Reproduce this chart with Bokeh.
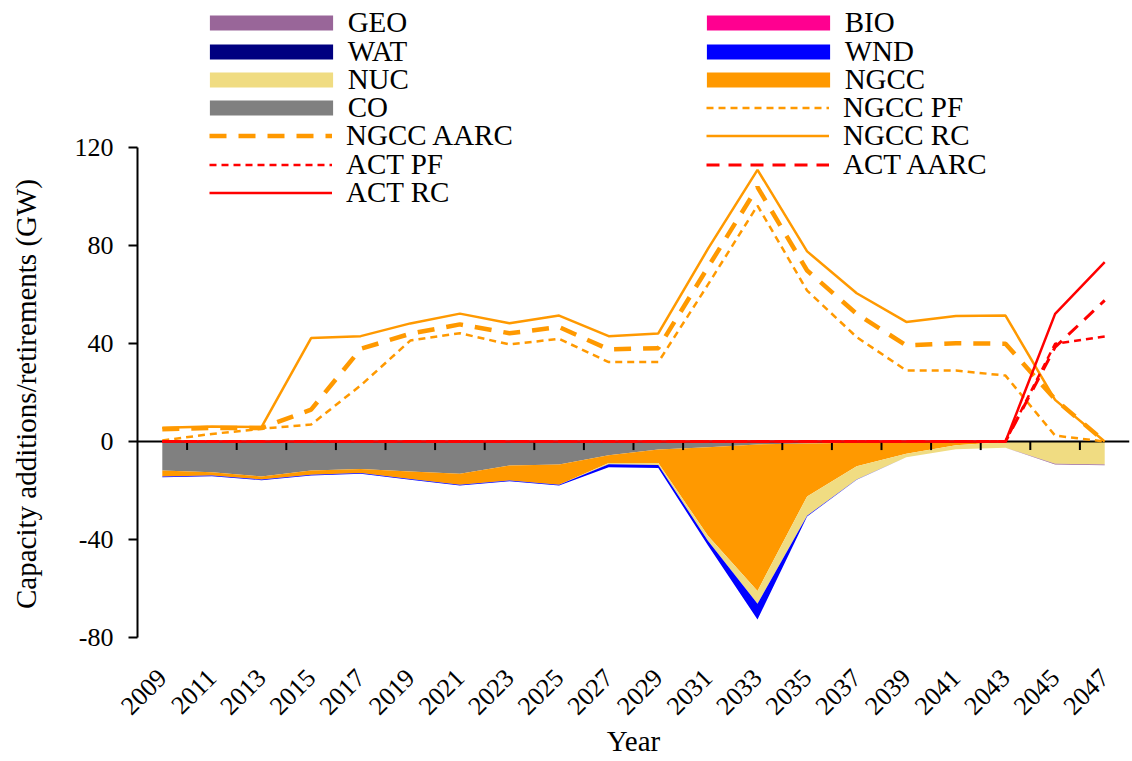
from math import pi
from bokeh.plotting import figure
from bokeh.models import ColumnDataSource, Legend, LegendItem, FixedTicker, Range1d
from bokeh.embed import file_html
from bokeh.resources import INLINE

# ---------------- data ----------------
years = [2009, 2011, 2013, 2015, 2017, 2019, 2021, 2023, 2025, 2027,
         2029, 2031, 2033, 2035, 2037, 2039, 2041, 2043, 2045, 2047]

# retirements (negative, stacked downward from zero)
CO = [-11.8, -12.5, -14.3, -11.8, -11.2, -12.2, -13.2, -9.8, -9.4, -5.6,
      -3.3, -2.3, -1.2, -0.8, -0.5, -0.3, -0.1, 0.0, 0.0, 0.0]
NGCC = [-2.5, -1.4, -1.2, -1.8, -1.7, -3.1, -4.5, -6.1, -8.3, -3.2,
        -5.5, -36.2, -59.8, -21.6, -9.6, -4.7, -1.4, -0.2, 0.0, 0.0]
NUC = [0.0, 0.0, 0.0, 0.0, 0.0, 0.0, 0.0, 0.0, 0.0, -0.5,
       -0.8, -2.0, -5.2, -7.9, -5.4, -1.4, -1.7, -2.3, -9.1, -9.4]
WND = [-0.3, -0.3, -0.3, -0.3, -0.3, -0.3, -0.3, -0.3, -0.3, -1.2,
       -1.2, -1.8, -6.5, -0.3, -0.1, 0.0, 0.0, 0.0, 0.0, 0.0]
WAT = [0.0, 0.0, 0.0, 0.0, 0.0, 0.0, 0.0, 0.0, 0.0, 0.0,
       0.0, 0.0, 0.0, 0.0, 0.0, 0.0, 0.0, 0.0, 0.0, 0.0]
BIO = [0.0, 0.0, 0.0, 0.0, 0.0, 0.0, 0.0, 0.0, 0.0, 0.0,
       0.0, 0.0, 0.0, 0.0, 0.0, 0.0, 0.0, 0.0, 0.0, 0.0]
GEO = [0.0, 0.0, 0.0, 0.0, 0.0, 0.0, 0.0, 0.0, 0.0, 0.0,
       0.0, 0.0, 0.0, 0.0, 0.0, 0.0, 0.0, 0.0, -0.3, -0.3]

# additions (lines)
NGCC_PF = [0.4, 3.1, 5.2, 6.9, 22.9, 41.2, 44.2, 39.6, 41.9, 32.4,
           32.4, 64.0, 96.3, 61.6, 42.6, 29.0, 29.0, 26.9, 2.4, 0.0]
NGCC_AARC = [5.0, 5.5, 5.5, 13.0, 37.8, 44.0, 47.8, 44.2, 46.7, 37.6,
             38.1, 71.1, 103.8, 69.8, 52.1, 39.2, 40.1, 39.9, 17.2, 0.0]
NGCC_RC = [5.6, 6.1, 5.9, 42.2, 43.0, 48.2, 52.2, 48.3, 51.4, 43.0,
           44.1, 78.6, 110.9, 77.6, 60.5, 48.8, 51.2, 51.4, 17.0, 0.0]
ACT_PF = [0.0, 0.0, 0.0, 0.0, 0.0, 0.0, 0.0, 0.0, 0.0, 0.0,
          0.0, 0.0, 0.0, 0.0, 0.0, 0.0, 0.0, 0.0, 39.9, 42.9]
ACT_AARC = [0.0, 0.0, 0.0, 0.0, 0.0, 0.0, 0.0, 0.0, 0.0, 0.0,
            0.0, 0.0, 0.0, 0.0, 0.0, 0.0, 0.0, 0.0, 38.5, 57.6]
ACT_RC = [0.0, 0.0, 0.0, 0.0, 0.0, 0.0, 0.0, 0.0, 0.0, 0.0,
          0.0, 0.0, 0.0, 0.0, 0.0, 0.0, 0.0, 0.0, 52.1, 73.2]

y_ticks = [-80, -40, 0, 40, 80, 120]

legend_col1 = ["GEO", "WAT", "NUC", "CO", "NGCC AARC", "ACT PF", "ACT RC"]
legend_col2 = ["BIO", "WND", "NGCC", "NGCC PF", "NGCC RC", "ACT AARC"]

Y_LABEL = "Capacity additions/retirements (GW)"
X_LABEL = "Year"

# ---------------- style / layout ----------------
FONT = "Liberation Serif"
COLORS = {"GEO": "#996699", "BIO": "#FF0090", "WAT": "#000080", "WND": "#0000FF",
          "NUC": "#F0DC82", "NGCC": "#FF9900", "CO": "#808080"}
ORANGE = "#FF9900"
RED = "#FF0000"

W, H = 1132, 761
B_LEFT, B_RIGHT, B_TOP, B_BOTTOM = 137, 3, 5, 124
AXIS_PX = 490                       # pixel height of the y-axis span (-80..120)
FRAME_H = H - B_TOP - B_BOTTOM
y_lo, y_hi = y_ticks[0], y_ticks[-1]
y_top = y_lo + FRAME_H * (y_hi - y_lo) / AXIS_PX   # frame extends above the axis for the legend

p = figure(width=W, height=H, output_backend="svg", toolbar_location=None,
           x_range=Range1d(years[0] - 1, years[-1] + 1), y_range=Range1d(y_lo, y_top),
           min_border_left=B_LEFT, min_border_right=B_RIGHT,
           min_border_top=B_TOP, min_border_bottom=B_BOTTOM)
p.outline_line_color = None
p.xgrid.grid_line_color = None
p.ygrid.grid_line_color = None

src = ColumnDataSource(dict(x=years, CO=CO, NGCC=NGCC, NUC=NUC, WND=WND, WAT=WAT, BIO=BIO, GEO=GEO))
stack_names = ["CO", "NGCC", "NUC", "WND", "WAT", "BIO", "GEO"]
area_rs = p.varea_stack(stackers=stack_names, x="x", color=[COLORS[n] for n in stack_names], source=src)
R = dict(zip(stack_names, area_rs))

# x-axis line at zero with ticks between categories
p.hspan(y=[0], line_color="black", line_width=2)
mids = [(a + b) / 2 for a, b in zip(years[:-1], years[1:])]
p.segment(x0=mids, y0=[0] * len(mids), x1=mids, y1=[-3.5] * len(mids), line_color="black", line_width=2)

R["NGCC PF"] = p.line(years, NGCC_PF, line_color=ORANGE, line_width=2.5, line_dash="7 5")
R["NGCC AARC"] = p.line(years, NGCC_AARC, line_color=ORANGE, line_width=4.5, line_dash="17 12")
R["NGCC RC"] = p.line(years, NGCC_RC, line_color=ORANGE, line_width=2.5)
R["ACT PF"] = p.line(years, ACT_PF, line_color=RED, line_width=2.5, line_dash="7 5")
R["ACT AARC"] = p.line(years, ACT_AARC, line_color=RED, line_width=3, line_dash="13 9")
R["ACT RC"] = p.line(years, ACT_RC, line_color=RED, line_width=2.5)

# axes
xa = p.xaxis[0]
xa.ticker = FixedTicker(ticks=years)
xa.axis_line_color = None
xa.major_tick_line_color = None
xa.minor_tick_line_color = None
xa.major_label_orientation = pi / 4
xa.major_label_text_font = FONT
xa.major_label_text_font_size = "26px"
xa.major_label_text_color = "black"
xa.major_label_standoff = 30
xa.axis_label = X_LABEL
xa.axis_label_text_font = FONT
xa.axis_label_text_font_style = "normal"
xa.axis_label_text_font_size = "29px"
xa.axis_label_text_color = "black"
xa.axis_label_standoff = 0

ya = p.yaxis[0]
ya.bounds = (y_lo, y_hi)
ya.ticker = FixedTicker(ticks=y_ticks)
ya.major_label_overrides = {v: str(v) for v in y_ticks}
ya.axis_line_width = 2
ya.axis_line_color = "black"
ya.major_tick_line_width = 2
ya.major_tick_line_color = "black"
ya.major_tick_out = 9
ya.major_tick_in = 0
ya.minor_tick_line_color = None
ya.major_label_text_font = FONT
ya.major_label_text_font_size = "26px"
ya.major_label_text_color = "black"
ya.major_label_standoff = 15
ya.axis_label_text_font = FONT
ya.axis_label_text_font_style = "normal"
ya.axis_label_text_font_size = "29px"
ya.axis_label_text_color = "black"
ya.axis_label_standoff = 30
# centre the visible text on the -80..120 span rather than the taller frame
ya.axis_label = Y_LABEL + "\u00a0" * 20

# legend: one single-row legend per entry, laid out in two columns
FRAME_BOTTOM_PX = H - B_BOTTOM
ROW0_CENTER = 21.7   # screen y of first legend row
ROW_PITCH = 28.3
ITEM_H = 35          # effective rendered height of one legend row
COL_X = [72, 569]    # glyph left, relative to frame left
GW, GH = 123, 15     # visible swatch size


def add_legend_row(name, col, row):
    center = ROW0_CENTER + ROW_PITCH * row
    vy = FRAME_BOTTOM_PX - center - ITEM_H / 2
    if name in COLORS:   # area swatch is drawn inset by 10% on each side
        gw, gh = GW / 0.8, GH / 0.8
        x = COL_X[col] - 0.1 * gw
        standoff = 0
    else:
        gw, gh = GW, GH
        x = COL_X[col]
        standoff = 14
    leg = Legend(items=[LegendItem(label=name, renderers=[R[name]])],
                 location=(x, vy), orientation="vertical",
                 glyph_width=int(round(gw)), glyph_height=int(round(gh)), label_standoff=standoff,
                 padding=0, margin=0, spacing=0,
                 border_line_alpha=0, background_fill_alpha=0,
                 label_text_font=FONT, label_text_font_size="29px",
                 label_text_color="black")
    p.add_layout(leg)


for i, n in enumerate(legend_col1):
    add_legend_row(n, 0, i)
for i, n in enumerate(legend_col2):
    add_legend_row(n, 1, i)

open("out.html", "w").write(file_html(p, INLINE))
